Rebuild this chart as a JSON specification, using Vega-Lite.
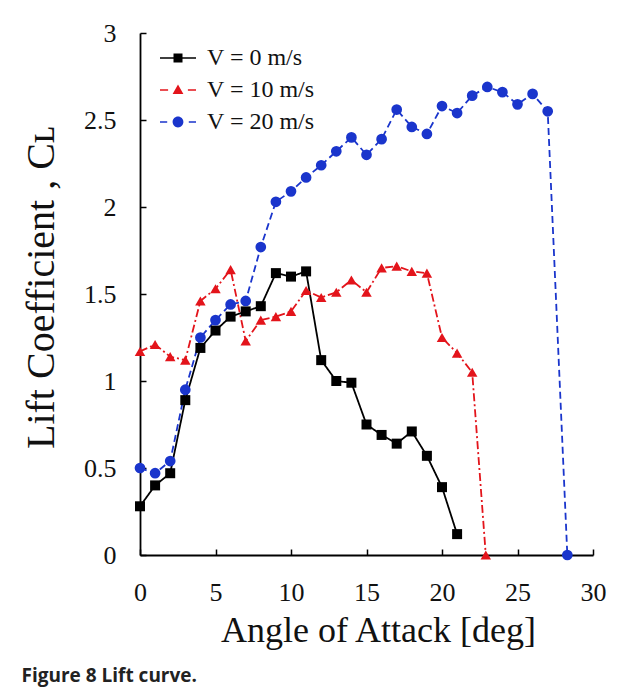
{
  "$schema": "https://vega.github.io/schema/vega-lite/v6.json",
  "width": 453,
  "height": 522,
  "autosize": {"type": "none"},
  "padding": {"left": 140, "top": 33, "right": 31, "bottom": 139},
  "background": "white",
  "config": {"view": {"stroke": null}, "font": "Liberation Serif"},
  "title": {
    "text": "Figure 8 Lift curve.",
    "orient": "bottom",
    "anchor": "start",
    "frame": "bounds",
    "font": "Open Sans",
    "fontSize": 19,
    "fontWeight": 700,
    "color": "#222222",
    "offset": 19
  },
  "data": {
    "values": [
      {"series": "V = 0 m/s", "angle": 0, "cl": 0.28},
      {"series": "V = 0 m/s", "angle": 1, "cl": 0.40},
      {"series": "V = 0 m/s", "angle": 2, "cl": 0.47},
      {"series": "V = 0 m/s", "angle": 3, "cl": 0.89},
      {"series": "V = 0 m/s", "angle": 4, "cl": 1.19},
      {"series": "V = 0 m/s", "angle": 5, "cl": 1.29},
      {"series": "V = 0 m/s", "angle": 6, "cl": 1.37},
      {"series": "V = 0 m/s", "angle": 7, "cl": 1.40},
      {"series": "V = 0 m/s", "angle": 8, "cl": 1.43},
      {"series": "V = 0 m/s", "angle": 9, "cl": 1.62},
      {"series": "V = 0 m/s", "angle": 10, "cl": 1.60},
      {"series": "V = 0 m/s", "angle": 11, "cl": 1.63},
      {"series": "V = 0 m/s", "angle": 12, "cl": 1.12},
      {"series": "V = 0 m/s", "angle": 13, "cl": 1.00},
      {"series": "V = 0 m/s", "angle": 14, "cl": 0.99},
      {"series": "V = 0 m/s", "angle": 15, "cl": 0.75},
      {"series": "V = 0 m/s", "angle": 16, "cl": 0.69},
      {"series": "V = 0 m/s", "angle": 17, "cl": 0.64},
      {"series": "V = 0 m/s", "angle": 18, "cl": 0.71},
      {"series": "V = 0 m/s", "angle": 19, "cl": 0.57},
      {"series": "V = 0 m/s", "angle": 20, "cl": 0.39},
      {"series": "V = 0 m/s", "angle": 21, "cl": 0.12},
      {"series": "V = 10 m/s", "angle": 0, "cl": 1.17},
      {"series": "V = 10 m/s", "angle": 1, "cl": 1.21},
      {"series": "V = 10 m/s", "angle": 2, "cl": 1.14},
      {"series": "V = 10 m/s", "angle": 3, "cl": 1.12},
      {"series": "V = 10 m/s", "angle": 4, "cl": 1.46},
      {"series": "V = 10 m/s", "angle": 5, "cl": 1.53},
      {"series": "V = 10 m/s", "angle": 6, "cl": 1.64},
      {"series": "V = 10 m/s", "angle": 7, "cl": 1.23},
      {"series": "V = 10 m/s", "angle": 8, "cl": 1.35},
      {"series": "V = 10 m/s", "angle": 9, "cl": 1.37},
      {"series": "V = 10 m/s", "angle": 10, "cl": 1.40},
      {"series": "V = 10 m/s", "angle": 11, "cl": 1.52},
      {"series": "V = 10 m/s", "angle": 12, "cl": 1.48},
      {"series": "V = 10 m/s", "angle": 13, "cl": 1.51},
      {"series": "V = 10 m/s", "angle": 14, "cl": 1.58},
      {"series": "V = 10 m/s", "angle": 15, "cl": 1.51},
      {"series": "V = 10 m/s", "angle": 16, "cl": 1.65},
      {"series": "V = 10 m/s", "angle": 17, "cl": 1.66},
      {"series": "V = 10 m/s", "angle": 18, "cl": 1.63},
      {"series": "V = 10 m/s", "angle": 19, "cl": 1.62},
      {"series": "V = 10 m/s", "angle": 20, "cl": 1.25},
      {"series": "V = 10 m/s", "angle": 21, "cl": 1.16},
      {"series": "V = 10 m/s", "angle": 22, "cl": 1.05},
      {"series": "V = 10 m/s", "angle": 22.9, "cl": 0},
      {"series": "V = 20 m/s", "angle": 0, "cl": 0.50},
      {"series": "V = 20 m/s", "angle": 1, "cl": 0.47},
      {"series": "V = 20 m/s", "angle": 2, "cl": 0.54},
      {"series": "V = 20 m/s", "angle": 3, "cl": 0.95},
      {"series": "V = 20 m/s", "angle": 4, "cl": 1.25},
      {"series": "V = 20 m/s", "angle": 5, "cl": 1.35},
      {"series": "V = 20 m/s", "angle": 6, "cl": 1.44},
      {"series": "V = 20 m/s", "angle": 7, "cl": 1.46},
      {"series": "V = 20 m/s", "angle": 8, "cl": 1.77},
      {"series": "V = 20 m/s", "angle": 9, "cl": 2.03},
      {"series": "V = 20 m/s", "angle": 10, "cl": 2.09},
      {"series": "V = 20 m/s", "angle": 11, "cl": 2.17},
      {"series": "V = 20 m/s", "angle": 12, "cl": 2.24},
      {"series": "V = 20 m/s", "angle": 13, "cl": 2.32},
      {"series": "V = 20 m/s", "angle": 14, "cl": 2.40},
      {"series": "V = 20 m/s", "angle": 15, "cl": 2.30},
      {"series": "V = 20 m/s", "angle": 16, "cl": 2.39},
      {"series": "V = 20 m/s", "angle": 17, "cl": 2.56},
      {"series": "V = 20 m/s", "angle": 18, "cl": 2.46},
      {"series": "V = 20 m/s", "angle": 19, "cl": 2.42},
      {"series": "V = 20 m/s", "angle": 20, "cl": 2.58},
      {"series": "V = 20 m/s", "angle": 21, "cl": 2.54},
      {"series": "V = 20 m/s", "angle": 22, "cl": 2.64},
      {"series": "V = 20 m/s", "angle": 23, "cl": 2.69},
      {"series": "V = 20 m/s", "angle": 24, "cl": 2.66},
      {"series": "V = 20 m/s", "angle": 25, "cl": 2.59},
      {"series": "V = 20 m/s", "angle": 26, "cl": 2.65},
      {"series": "V = 20 m/s", "angle": 27, "cl": 2.55},
      {"series": "V = 20 m/s", "angle": 28.3, "cl": 0}
    ]
  },
  "encoding": {
    "x": {
      "field": "angle",
      "type": "quantitative",
      "scale": {"domain": [0, 30], "nice": false, "zero": false},
      "axis": {
        "values": [0, 5, 10, 15, 20, 25, 30],
        "grid": false,
        "tickSize": -6,
        "tickColor": "#000000",
        "tickWidth": 1.5,
        "domainColor": "#000000",
        "domainWidth": 1.8,
        "labelFont": "Liberation Serif",
        "labelFontSize": 26,
        "labelColor": "#111111",
        "labelPadding": 30,
        "labelFlush": false,
        "title": "Angle of Attack [deg]",
        "titleFont": "Liberation Serif",
        "titleFontSize": 36,
        "titleFontWeight": "normal",
        "titleColor": "#111111",
        "titlePadding": 8,
        "titleX": 238
      }
    },
    "y": {
      "field": "cl",
      "type": "quantitative",
      "scale": {"domain": [0, 3], "nice": false},
      "axis": {
        "values": [0, 0.5, 1, 1.5, 2, 2.5, 3],
        "format": "~g",
        "grid": false,
        "tickSize": -6,
        "tickColor": "#000000",
        "tickWidth": 1.5,
        "domainColor": "#000000",
        "domainWidth": 1.8,
        "labelFont": "Liberation Serif",
        "labelFontSize": 26,
        "labelColor": "#111111",
        "labelPadding": 30,
        "labelFlush": false,
        "title": "Lift Coefficient , Cʟ",
        "titleFont": "Liberation Serif",
        "titleFontSize": 40,
        "titleFontWeight": "normal",
        "titleColor": "#111111",
        "titlePadding": 22,
        "titleY": 254
      }
    }
  },
  "layer": [
    {
      "mark": {"type": "line", "strokeWidth": 1.8},
      "encoding": {
        "stroke": {
          "field": "series",
          "type": "nominal",
          "scale": {"range": ["#000000", "#e3141b", "#1a35cc"]},
          "legend": null
        },
        "strokeDash": {
          "field": "series",
          "type": "nominal",
          "scale": {"range": [[1, 0], [8, 3, 2, 3], [7, 4]]},
          "legend": null
        }
      }
    },
    {
      "transform": [{"filter": "datum.series == 'V = 0 m/s'"}],
      "mark": {"type": "point", "shape": "square", "filled": true, "opacity": 1, "strokeWidth": 0, "size": 100, "color": "#000000"}
    },
    {
      "transform": [{"filter": "datum.series == 'V = 10 m/s'"}],
      "mark": {"type": "point", "shape": "triangle-up", "filled": true, "opacity": 1, "strokeWidth": 0, "size": 110, "color": "#e3141b"}
    },
    {
      "transform": [{"filter": "datum.series == 'V = 20 m/s'"}],
      "mark": {"type": "point", "shape": "circle", "filled": true, "opacity": 1, "strokeWidth": 0, "size": 115, "color": "#1a35cc"}
    },
    {
      "transform": [{"filter": "false"}],
      "mark": {"type": "point", "filled": true, "opacity": 1, "strokeWidth": 0},
      "encoding": {
        "x": null,
        "y": null,
        "color": {
          "field": "series",
          "type": "nominal",
          "scale": {"domain": ["V = 0 m/s", "V = 10 m/s", "V = 20 m/s"], "range": ["#000000", "#e3141b", "#1a35cc"]},
          "legend": {
            "title": null,
            "orient": "none",
            "legendX": 20,
            "legendY": 7,
            "padding": 0,
            "labelFont": "Liberation Serif",
            "labelFontSize": 24,
            "labelColor": "#111111",
            "labelOffset": 11,
            "symbolSize": 1296,
            "symbolStrokeWidth": 0,
            "symbolFillColor": "#000000",
            "rowPadding": 2
          }
        },
        "shape": {
          "field": "series",
          "type": "nominal",
          "scale": {
            "domain": ["V = 0 m/s", "V = 10 m/s", "V = 20 m/s"],
            "range": [
              "M-1,-0.045H1V0.045H-1Z M-0.25,-0.25H0.25V0.25H-0.25Z",
              "M-1,-0.045H-0.55V0.045H-1Z M0.55,-0.045H1V0.045H0.55Z M0,-0.3L0.3,0.22L-0.3,0.22Z",
              "M-1,-0.045H-0.6V0.045H-1Z M0.6,-0.045H1V0.045H0.6Z M-0.3,0A0.3,0.3,0,1,0,0.3,0A0.3,0.3,0,1,0,-0.3,0Z"
            ]
          },
          "legend": {
            "title": null,
            "orient": "none",
            "legendX": 20,
            "legendY": 7,
            "padding": 0,
            "labelFont": "Liberation Serif",
            "labelFontSize": 24,
            "labelColor": "#111111",
            "labelOffset": 11,
            "symbolSize": 1296,
            "symbolStrokeWidth": 0,
            "symbolFillColor": "#000000",
            "rowPadding": 2
          }
        }
      }
    }
  ]
}
